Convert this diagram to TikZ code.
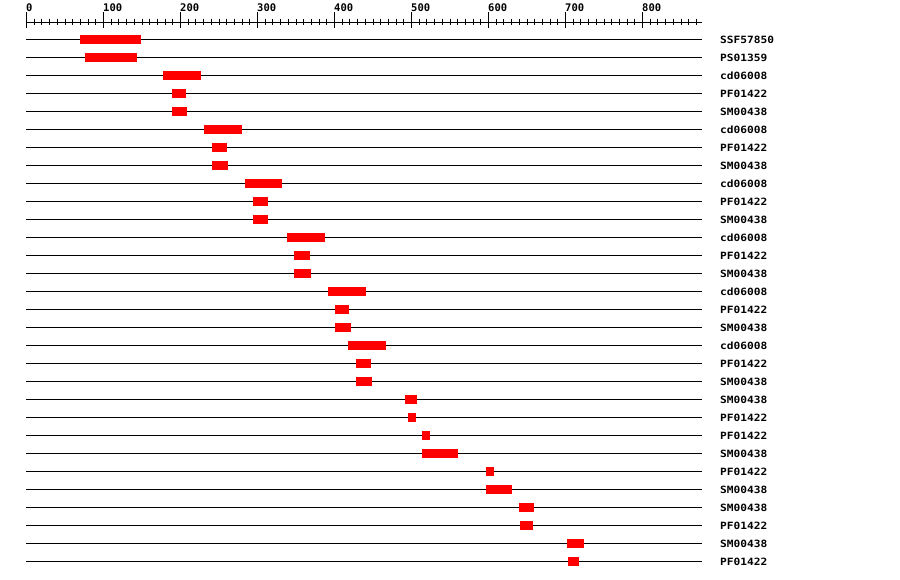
\documentclass[tikz,border=0pt]{standalone}
\usepackage{fontspec}
\newfontfamily\rowfont{DejaVu Sans Mono}[FakeStretch=1.12]
\newfontfamily\axfont{DejaVu Sans Mono}
\begin{document}
\begin{tikzpicture}[x=1pt,y=-1pt,
  thin1/.style={line width=1pt, draw=black},
  bar/.style={fill=red, draw=none},
  rowlbl/.style={anchor=west, inner sep=0pt, font=\rowfont\bfseries\fontsize{10}{10}\selectfont},
  axlbl/.style={anchor=south west, inner sep=0pt, font=\axfont\bfseries\fontsize{10.5}{10.5}\selectfont}]
\useasboundingbox[fill=white] (0,0) rectangle (900,580);
% axis
\coordinate (axL) at (26.5,22.5);
\coordinate (axR) at (702,22.5);
\draw[thin1] (axL) -- (axR);
\foreach \i in {0,...,87} {
  \pgfmathsetmacro\xx{26.5+7.7*\i}
  \draw[thin1] (\xx,19) -- (\xx,25.5);
}
\foreach \v [count=\k from 0] in {0,100,200,300,400,500,600,700,800} {
  \pgfmathsetmacro\xx{26.5+77*\k}
  \draw[thin1] (\xx,12.5) -- (\xx,28.5);
  \node[axlbl] (ax\k) at (\xx-0.5,12) {\v};
}
% rows
\foreach \a/\b/\t [count=\k from 0] in {
  80/141/SSF57850, 85/137/PS01359, 163/201/cd06008, 172/186/PF01422, 172/187/SM00438,
  204/242/cd06008, 212/227/PF01422, 212/228/SM00438, 245/282/cd06008, 253/268/PF01422,
  253/268/SM00438, 287/325/cd06008, 294/310/PF01422, 294/311/SM00438, 328/366/cd06008,
  335/349/PF01422, 335/351/SM00438, 348/386/cd06008, 356/371/PF01422, 356/372/SM00438,
  405/417/SM00438, 408/416/PF01422, 422/430/PF01422, 422/458/SM00438, 486/494/PF01422,
  486/512/SM00438, 519/534/SM00438, 520/533/PF01422, 567/584/SM00438, 568/579/PF01422} {
  \pgfmathsetmacro\yy{39.5+18*\k}
  \coordinate (rs\k) at (26,\yy);
  \coordinate (re\k) at (702,\yy);
  \draw[thin1] (rs\k) -- (re\k);
  \fill[bar] (\a,\yy-4.5) rectangle (\b,\yy+4.5);
  \node[rowlbl] (lbl\k) at (720,\yy+0.5) {\t};
}
\end{tikzpicture}
\end{document}
